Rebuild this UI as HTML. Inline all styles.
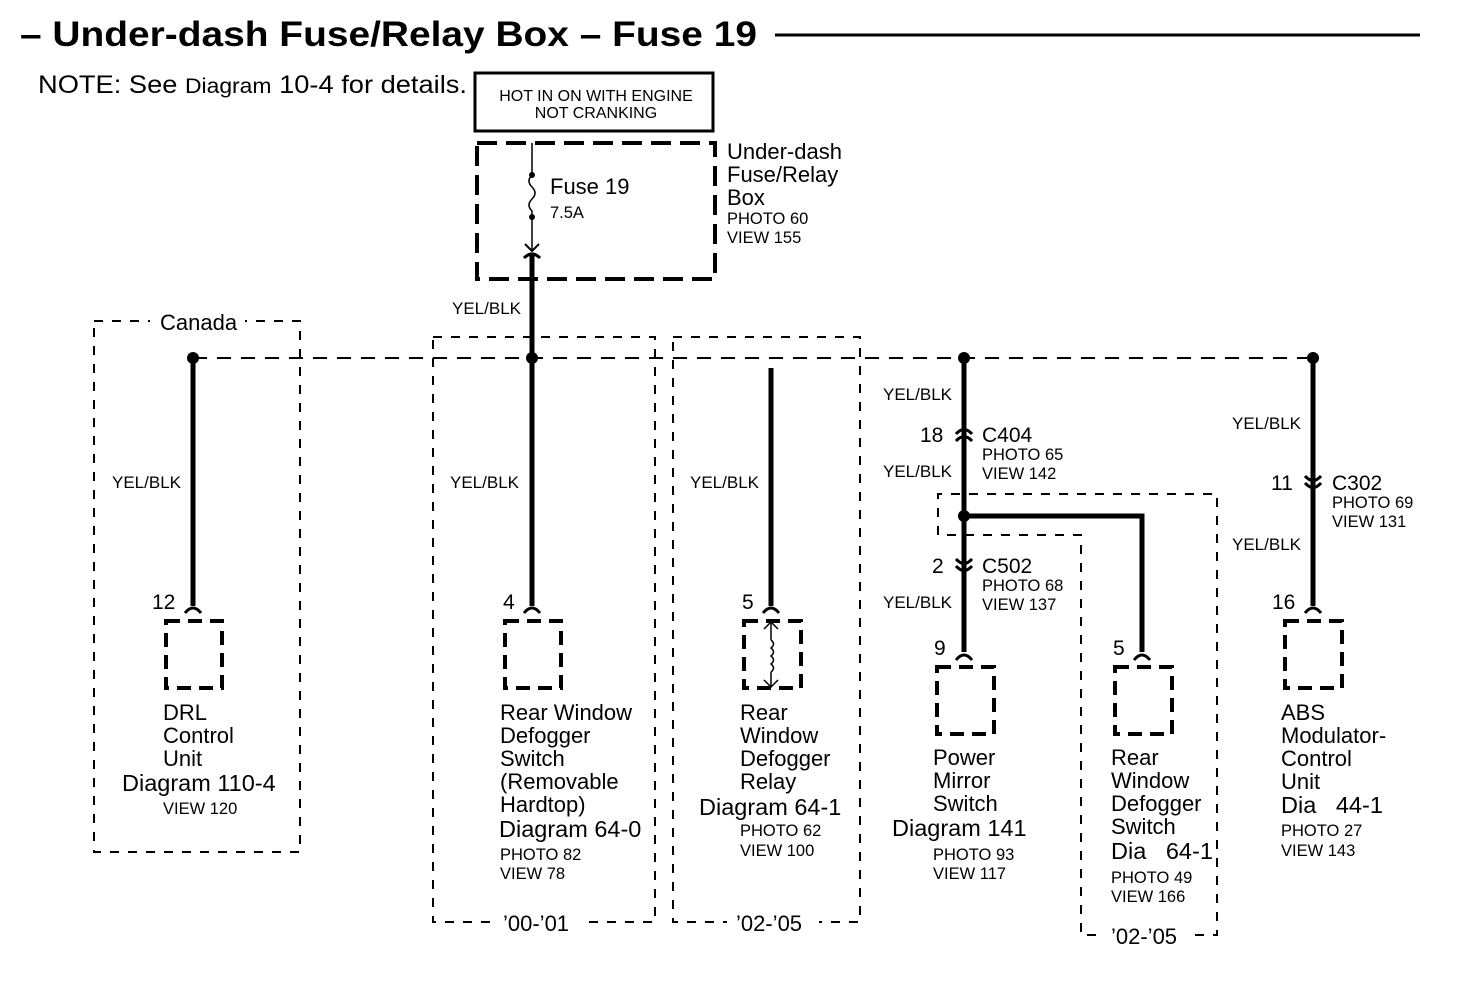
<!DOCTYPE html>
<html><head><meta charset="utf-8"><style>
html,body{margin:0;padding:0;background:#fff}
svg{display:block}
text{font-family:"Liberation Sans",Arial,sans-serif;fill:#000}
.t{font-size:22px}.d{font-size:23.5px}.s{font-size:17px}.p{font-size:16.5px}.n{font-size:21px}
</style></head><body>
<svg width="1472" height="986" viewBox="0 0 1472 986" xmlns="http://www.w3.org/2000/svg">
<rect width="1472" height="986" fill="#fff"/>
<text x="20" y="46" style="font-size:35px;font-weight:bold" textLength="737" lengthAdjust="spacingAndGlyphs">– Under-dash Fuse/Relay Box – Fuse 19</text>
<line x1="775" y1="35" x2="1420" y2="35" stroke="#000" stroke-width="3"/>
<text x="38" y="93" style="font-size:25px" textLength="429" lengthAdjust="spacingAndGlyphs">NOTE: See <tspan style="font-size:21px">Diagram</tspan> 10-4 for details.</text>
<rect x="475" y="73" width="238" height="58" fill="none" stroke="#000" stroke-width="3"/>
<text x="596" y="101" style="font-size:16px" text-anchor="middle">HOT IN ON WITH ENGINE</text>
<text x="596" y="118" style="font-size:16px" text-anchor="middle">NOT CRANKING</text>
<rect x="477" y="143" width="238" height="136" fill="none" stroke="#000" stroke-width="4" stroke-dasharray="20,9"/>
<text x="727" y="159" class="t">Under-dash</text>
<text x="727" y="182" class="t">Fuse/Relay</text>
<text x="727" y="205" class="t">Box</text>
<text x="727" y="224" class="p">PHOTO 60</text>
<text x="727" y="243" class="p">VIEW 155</text>
<line x1="532" y1="143" x2="532" y2="175" stroke="#000" stroke-width="1.5"/>
<path d="M532,175 q-6,6 0,12 q6,6 0,12 q-6,6 0,12 l0,6" fill="none" stroke="#000" stroke-width="1.5"/>
<line x1="532" y1="217" x2="532" y2="250" stroke="#000" stroke-width="1.5"/>
<circle cx="532" cy="175" r="3" fill="#000"/><circle cx="532" cy="217" r="3" fill="#000"/>
<text x="550" y="194" class="t">Fuse 19</text>
<text x="550" y="218" class="p">7.5A</text>
<path d="M525,244 L532,251 L539,244" fill="none" stroke="#000" stroke-width="2"/>
<path d="M524,258 Q532,250 540,258" fill="none" stroke="#000" stroke-width="3"/>
<line x1="532" y1="255" x2="532" y2="358" stroke="#000" stroke-width="5"/>
<text x="452" y="314" class="s">YEL/BLK</text>
<g fill="none" stroke="#000" stroke-width="2" stroke-dasharray="9,9">
<path d="M94,321 H300 V852 H94 Z"/>
<path d="M433,337 H655 V922 H433 Z"/>
<path d="M673,337 H860 V922 H673 Z"/>
<path d="M938,535 V494 H1217 V935 H1081 V535 Z"/>
</g>
<rect x="150" y="310" width="95" height="24" fill="#fff"/>
<text x="160" y="330" class="t">Canada</text>
<rect x="494" y="910" width="92" height="24" fill="#fff"/>
<text x="503" y="931" class="t">’00-’01</text>
<rect x="727" y="910" width="92" height="24" fill="#fff"/>
<text x="736" y="931" class="t">’02-’05</text>
<rect x="1102" y="924" width="92" height="24" fill="#fff"/>
<text x="1111" y="944" class="t">’02-’05</text>
<line x1="193" y1="358" x2="1313" y2="358" stroke="#000" stroke-width="2" stroke-dasharray="14,10"/>
<g fill="#000"><circle cx="193" cy="358" r="6"/><circle cx="532" cy="358" r="6"/><circle cx="964" cy="358" r="6"/><circle cx="1313" cy="358" r="6"/><circle cx="964" cy="516" r="6"/></g>
<g stroke="#000" stroke-width="5" fill="none">
<line x1="193" y1="358" x2="193" y2="606"/>
<line x1="532" y1="358" x2="532" y2="606"/>
<line x1="771" y1="368" x2="771" y2="606"/>
<line x1="964" y1="358" x2="964" y2="652"/>
<line x1="1313" y1="358" x2="1313" y2="606"/>
<path d="M964,516 H1142 V652"/>
</g>
<g stroke="#000" stroke-width="3" fill="none">
<path d="M185,613 Q193,603 201,613"/><path d="M524,613 Q532,603 540,613"/><path d="M763,613 Q771,603 779,613"/>
<path d="M956,660 Q964,650 972,660"/><path d="M1134,660 Q1142,650 1150,660"/><path d="M1305,613 Q1313,603 1321,613"/>
<path d="M956,434 Q964,425 972,434"/><path d="M956,441 Q964,432 972,441"/>
<path d="M956,559 Q964,568 972,559"/><path d="M956,566 Q964,575 972,566"/>
<path d="M1305,476 Q1313,485 1321,476"/><path d="M1305,483 Q1313,492 1321,483"/>
</g>
<g fill="none" stroke="#000" stroke-width="4" stroke-dasharray="14,8">
<rect x="166" y="621" width="56" height="67"/>
<rect x="505" y="621" width="56" height="67"/>
<rect x="744" y="621" width="57" height="67"/>
<rect x="937" y="667" width="57" height="67"/>
<rect x="1115" y="667" width="57" height="67"/>
<rect x="1285" y="621" width="57" height="67"/>
</g>
<g stroke="#000" stroke-width="1.5" fill="none">
<line x1="771" y1="622" x2="771" y2="640"/><path d="M764,629 L771,622 L778,629"/>
<path d="M771,640 q5,4 0,8 q5,4 0,8 q5,4 0,8 q5,4 0,8"/>
<line x1="771" y1="672" x2="771" y2="687"/><path d="M764,680 L771,687 L778,680"/>
</g>
<text x="112" y="488" class="s">YEL/BLK</text>
<text x="450" y="488" class="s">YEL/BLK</text>
<text x="690" y="488" class="s">YEL/BLK</text>
<text x="883" y="400" class="s">YEL/BLK</text>
<text x="883" y="477" class="s">YEL/BLK</text>
<text x="883" y="608" class="s">YEL/BLK</text>
<text x="1232" y="429" class="s">YEL/BLK</text>
<text x="1232" y="550" class="s">YEL/BLK</text>
<text x="920" y="442" class="n">18</text>
<text x="982" y="442" class="n">C404</text>
<text x="982" y="460" class="p">PHOTO 65</text>
<text x="982" y="479" class="p">VIEW 142</text>
<text x="932" y="573" class="n">2</text>
<text x="982" y="573" class="n">C502</text>
<text x="982" y="591" class="p">PHOTO 68</text>
<text x="982" y="610" class="p">VIEW 137</text>
<text x="1271" y="490" class="n">11</text>
<text x="1332" y="490" class="n">C302</text>
<text x="1332" y="508" class="p">PHOTO 69</text>
<text x="1332" y="527" class="p">VIEW 131</text>
<text x="152" y="609" class="n">12</text>
<text x="503" y="609" class="n">4</text>
<text x="742" y="609" class="n">5</text>
<text x="934" y="655" class="n">9</text>
<text x="1113" y="655" class="n">5</text>
<text x="1272" y="609" class="n">16</text>
<text x="163" y="720" class="t">DRL</text>
<text x="163" y="743" class="t">Control</text>
<text x="163" y="766" class="t">Unit</text>
<text x="122" y="791" class="d">Diagram 110-4</text>
<text x="163" y="814" class="p">VIEW 120</text>
<text x="500" y="720" class="t">Rear Window</text>
<text x="500" y="743" class="t">Defogger</text>
<text x="500" y="766" class="t">Switch</text>
<text x="500" y="789" class="t">(Removable</text>
<text x="500" y="812" class="t">Hardtop)</text>
<text x="499" y="837" class="d">Diagram 64-0</text>
<text x="500" y="860" class="p">PHOTO 82</text>
<text x="500" y="879" class="p">VIEW 78</text>
<text x="740" y="720" class="t">Rear</text>
<text x="740" y="743" class="t">Window</text>
<text x="740" y="766" class="t">Defogger</text>
<text x="740" y="789" class="t">Relay</text>
<text x="699" y="815" class="d">Diagram 64-1</text>
<text x="740" y="836" class="p">PHOTO 62</text>
<text x="740" y="856" class="p">VIEW 100</text>
<text x="933" y="765" class="t">Power</text>
<text x="933" y="788" class="t">Mirror</text>
<text x="933" y="811" class="t">Switch</text>
<text x="892" y="836" class="d">Diagram 141</text>
<text x="933" y="860" class="p">PHOTO 93</text>
<text x="933" y="879" class="p">VIEW 117</text>
<text x="1111" y="765" class="t">Rear</text>
<text x="1111" y="788" class="t">Window</text>
<text x="1111" y="811" class="t">Defogger</text>
<text x="1111" y="834" class="t">Switch</text>
<text x="1111" y="859" class="d">Dia&#160;&#160;&#160;64-1</text>
<text x="1111" y="883" class="p">PHOTO 49</text>
<text x="1111" y="902" class="p">VIEW 166</text>
<text x="1281" y="720" class="t">ABS</text>
<text x="1281" y="743" class="t">Modulator-</text>
<text x="1281" y="766" class="t">Control</text>
<text x="1281" y="789" class="t">Unit</text>
<text x="1281" y="813" class="d">Dia&#160;&#160;&#160;44-1</text>
<text x="1281" y="836" class="p">PHOTO 27</text>
<text x="1281" y="856" class="p">VIEW 143</text>
</svg>
</body></html>
